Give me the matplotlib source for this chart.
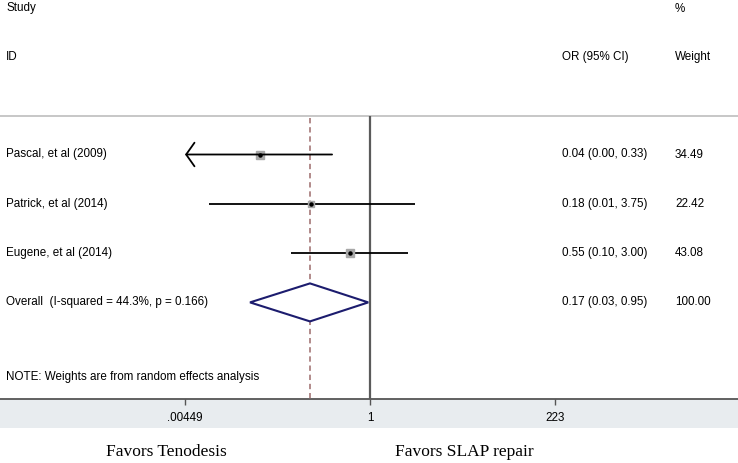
import numpy as np
import matplotlib
matplotlib.use("Agg")
import matplotlib.pyplot as plt
from matplotlib.patches import Polygon

# ── data ─────────────────────────────────────────────────────────────────────

studies = ["Pascal, et al (2009)", "Patrick, et al (2014)", "Eugene, et al (2014)"]
or_est  = [0.04, 0.18, 0.55]
or_lo   = [0.004, 0.009, 0.10]
or_hi   = [0.33, 3.75, 3.00]
weights = [34.49, 22.42, 43.08]

overall_label = "Overall  (I-squared = 44.3%, p = 0.166)"
overall_est, overall_lo, overall_hi = 0.173, 0.03, 0.95
overall_weight = 100.00

tick_vals   = [0.00449, 1, 223]
tick_labels = [".00449", "1", "223"]

# ── layout (pixels in a 738 x 463 canvas) ────────────────────────────────────

W, H = 738, 463
X_ONE = 370                     # pixel of OR = 1
PX_DEC = 185 / np.log10(223)    # pixels per decade
ROW0, ROW_STEP = 154.5, 49.3
TOP_LINE, AXIS_Y, BAND_BOT = 116, 399, 428

fig = plt.figure(figsize=(W / 100, H / 100), dpi=100)
ax = fig.add_axes([0, 0, 1, 1])
ax.set_xscale("log")
ax.set_xlim(10 ** (-X_ONE / PX_DEC), 10 ** ((W - X_ONE) / PX_DEC))
ax.set_ylim(H, 0)
ax.axis("off")

plt.rcParams["font.family"] = ["Liberation Sans", "DejaVu Sans"]
FS = 8.4

def ftext(x, y, s, **kw):
    kw.setdefault("fontsize", FS)
    kw.setdefault("va", "center")
    fig.text(x / W, 1 - y / H, s, **kw)

# header
ftext(6, 8, "Study")
ftext(6, 57, "ID")
ftext(675, 9, "%")
ftext(562, 57, "OR (95% CI)")
ftext(675, 57, "Weight")

ax.axhline(TOP_LINE, color="#bdbdbd", lw=1.2)

# bottom axis band
ax.axhspan(AXIS_Y, BAND_BOT, color="#e8ecef", lw=0)
ax.axhline(AXIS_Y, color="#555555", lw=1.3)
ax.vlines(tick_vals, AXIS_Y, AXIS_Y + 6, color="#555555", lw=1.0)
for v, lab in zip(tick_vals, tick_labels):
    ax.text(v, 418, lab, ha="center", va="center", fontsize=FS)

# reference lines
ax.vlines(1, TOP_LINE, AXIS_Y, color="#5a5a5a", lw=1.6)
ax.vlines(overall_est, TOP_LINE + 2, AXIS_Y, color="#9c6b6b", lw=1.1,
          linestyles=(0, (3.5, 2.5)))

xmin = tick_vals[0]
xmax = tick_vals[-1]

for i, (name, e, lo, hi, w) in enumerate(zip(studies, or_est, or_lo, or_hi, weights)):
    y = ROW0 + i * ROW_STEP
    lo_c, hi_c = max(lo, xmin), min(hi, xmax)
    if lo < xmin:
        ax.annotate("", xy=(lo_c, y), xytext=(hi_c, y),
                    arrowprops=dict(arrowstyle="->,head_length=6,head_width=8.5",
                                    mutation_scale=1, color="black", lw=1.3,
                                    shrinkA=0, shrinkB=0))
    else:
        ax.hlines(y, lo_c, hi_c, color="black", lw=1.3)
    ax.plot(e, y, "s", ms=0.95 * np.sqrt(w), color="#a8a8a8", mec="#a8a8a8")
    ax.plot(e, y, "o", ms=2.2, color="black")
    ftext(6, y, name)
    ftext(562, y, f"{e:.2f} ({lo:.2f}, {hi:.2f})")
    ftext(675, y, f"{w:.2f}")

# overall diamond
y = ROW0 + 3 * ROW_STEP
dia = Polygon([(overall_lo, y), (overall_est, y - 19), (overall_hi, y), (overall_est, y + 19)],
              closed=True, fill=True, facecolor="white", edgecolor="#1c1c6e", lw=1.5, zorder=3)
ax.add_patch(dia)
ftext(6, y, overall_label)
ftext(562, y, f"{overall_est:.2f} ({overall_lo:.2f}, {overall_hi:.2f})")
ftext(675, y, f"{overall_weight:.2f}")

ftext(6, 377, "NOTE: Weights are from random effects analysis")

# direction labels
ftext(166, 452, "Favors Tenodesis", ha="center", fontsize=12.5,
      family=["Liberation Serif", "DejaVu Serif"])
ftext(464, 452, "Favors SLAP repair", ha="center", fontsize=12.5,
      family=["Liberation Serif", "DejaVu Serif"])

fig.savefig("out.png", dpi=100)
